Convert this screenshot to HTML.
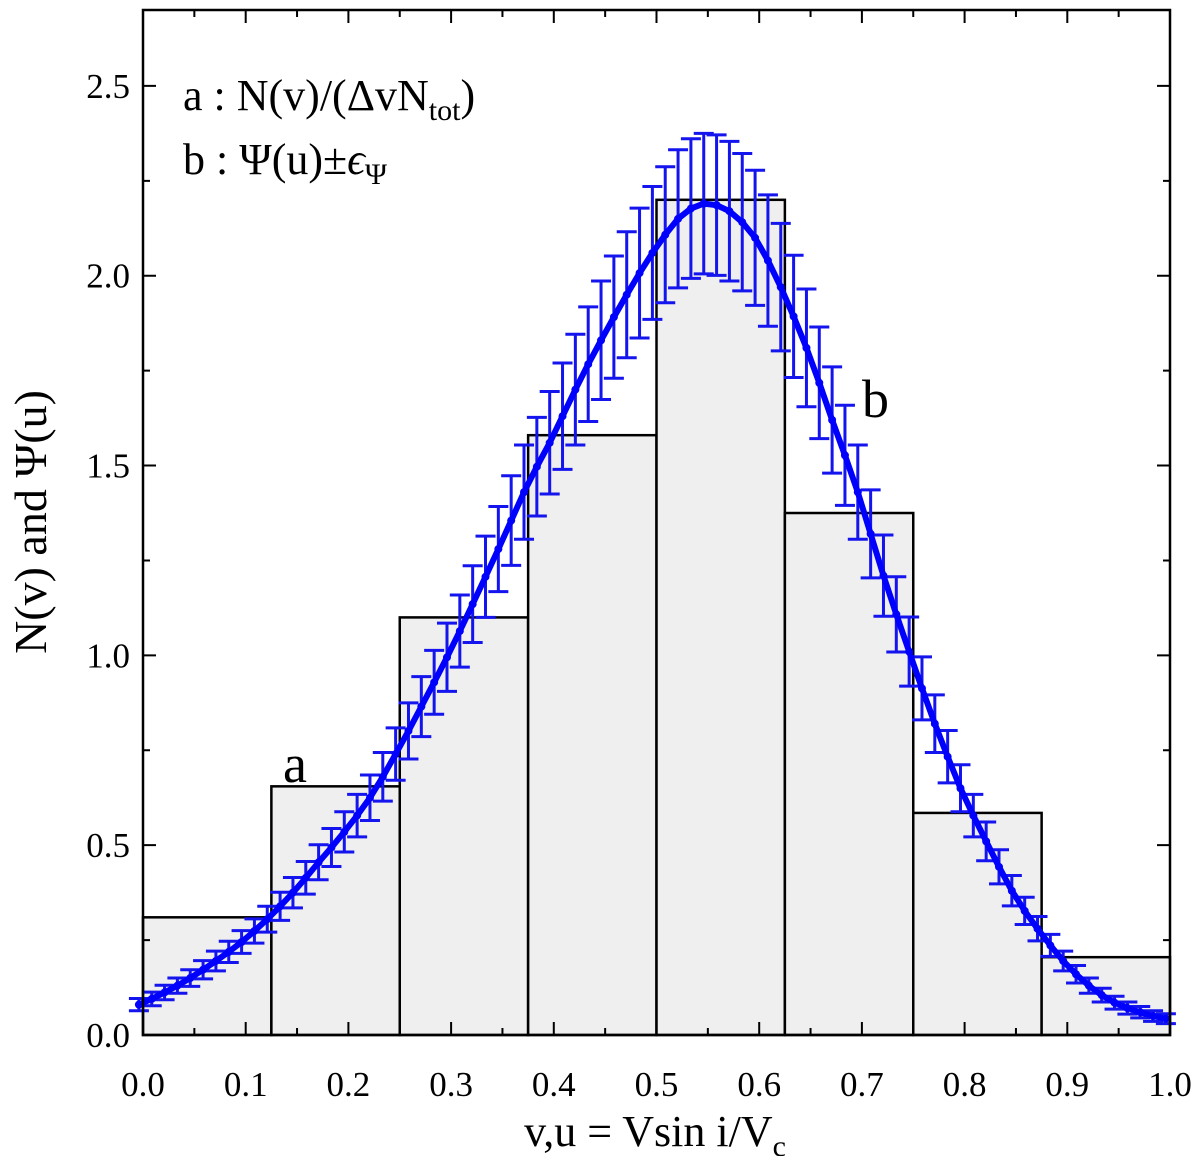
<!DOCTYPE html>
<html><head><meta charset="utf-8">
<style>
html,body{margin:0;padding:0;background:#fff;}
svg{display:block;font-family:"Liberation Serif","DejaVu Serif",serif;}
</style></head>
<body>
<svg id="chart" width="1200" height="1156" viewBox="0 0 1200 1156">
  <g id="bars"></g>
  <g id="errs"></g>
  <g id="curve"></g>
  <g id="axes"></g>
  <text x="183" y="110" font-size="44">a : N(v)/(ΔvN<tspan font-size="30" dy="10">tot</tspan><tspan dy="-10">)</tspan></text>
  <text x="183" y="174" font-size="44">b : Ψ(u)±<tspan font-style="italic">ϵ</tspan><tspan font-size="30" dy="10">Ψ</tspan></text>
  <text x="283" y="782" font-size="54">a</text>
  <text x="862" y="417" font-size="54">b</text>
  <text x="655" y="1146" font-size="44" text-anchor="middle">v,u = Vsin i/V<tspan font-size="30" dy="10">c</tspan></text>
  <text transform="translate(46,522) rotate(-90)" font-size="46" text-anchor="middle">N(v) and Ψ(u)</text>
</svg>
<script>
const binEdges = [0, 0.125, 0.25, 0.375, 0.5, 0.625, 0.75, 0.875, 1.0];
const binValues = [0.31, 0.655, 1.10, 1.58, 2.20, 1.375, 0.585, 0.205];
const psiValues = [0.080,0.095,0.112,0.130,0.150,0.172,0.195,0.219,0.245,0.274,0.305,0.339,0.375,0.414,0.455,0.494,0.535,0.578,0.625,0.680,0.740,0.801,0.865,0.929,0.995,1.064,1.135,1.207,1.28,1.355,1.43,1.497,1.56,1.63,1.70,1.767,1.83,1.891,1.95,2.007,2.06,2.108,2.15,2.177,2.19,2.186,2.17,2.141,2.10,2.040,1.97,1.893,1.81,1.718,1.62,1.527,1.43,1.320,1.21,1.108,1.01,0.913,0.82,0.733,0.65,0.578,0.51,0.443,0.38,0.327,0.28,0.236,0.195,0.160,0.13,0.105,0.085,0.071,0.060,0.050,0.043];
const psiErrors = [0.016,0.018,0.019,0.020,0.022,0.024,0.026,0.028,0.030,0.032,0.034,0.037,0.040,0.043,0.046,0.050,0.053,0.056,0.060,0.064,0.069,0.074,0.079,0.084,0.090,0.095,0.101,0.107,0.112,0.118,0.124,0.130,0.135,0.140,0.146,0.151,0.156,0.161,0.166,0.171,0.175,0.179,0.182,0.184,0.185,0.185,0.184,0.181,0.178,0.173,0.168,0.161,0.155,0.147,0.140,0.132,0.124,0.116,0.107,0.099,0.091,0.083,0.076,0.069,0.062,0.056,0.051,0.045,0.040,0.036,0.032,0.029,0.026,0.023,0.020,0.018,0.017,0.016,0.015,0.014,0.013];
const uStart = -0.004, uEnd = 0.996;
const xTickLabels = ["0.0","0.1","0.2","0.3","0.4","0.5","0.6","0.7","0.8","0.9","1.0"];
const yTickLabels = ["0.0","0.5","1.0","1.5","2.0","2.5"];

const NS = "http://www.w3.org/2000/svg";
const L = 143, R = 1170, T = 10, B = 1035, YMAX = 2.7;
function xs(v){ return L + (v - 0) / 1.0 * (R - L); }
function ys(v){ return B - v / YMAX * (B - T); }
function mk(tag, attrs, parent){ const e = document.createElementNS(NS, tag); for (const k in attrs) e.setAttribute(k, attrs[k]); parent.appendChild(e); return e; }

const gb = document.getElementById('bars');
binValues.forEach((v, i) => {
  const r = mk('rect', {x: xs(binEdges[i]), y: ys(v), width: xs(binEdges[i+1]) - xs(binEdges[i]), height: ys(0) - ys(v), fill: '#efefef', stroke: '#000', 'stroke-width': 2.5}, gb);
  
  
});

const ge = document.getElementById('errs');
const gc = document.getElementById('curve');
const n = psiValues.length;
const us = psiValues.map((_, i) => uStart + (uEnd - uStart) * i / (n - 1));
let d = '';
psiValues.forEach((v, i) => {
  const x = xs(us[i]), e = psiErrors[i];
  const y1 = ys(v + e), y2 = ys(v - e);
  const p = mk('path', {d: `M${x},${y1}V${y2}M${x-10},${y1}H${x+10}M${x-10},${y2}H${x+10}`, stroke: '#1414ee', 'stroke-width': 3, fill: 'none'}, ge);
  
  
  d += (i ? 'L' : 'M') + x + ',' + ys(v);
});
const line = mk('path', {d: d, stroke: '#0000ff', 'stroke-width': 6, fill: 'none'}, gc);


psiValues.forEach((v, i) => {
  const c = mk('circle', {cx: xs(us[i]), cy: ys(v), r: 4, fill: '#0000ff'}, gc);
  
  
});

const ga = document.getElementById('axes');
const frame = mk('rect', {x: L, y: T, width: R - L, height: B - T, fill: 'none', stroke: '#000', 'stroke-width': 2.5}, ga);


let td = '';
for (let k = 0; k <= 20; k++) {
  const x = xs(k * 0.05), len = k % 2 ? 7 : 13;
  td += `M${x},${B}V${B-len}M${x},${T}V${T+len}`;
}
for (let k = 0; k <= 10; k++) {
  const y = ys(k * 0.25), len = k % 2 ? 7 : 13;
  td += `M${L},${y}H${L+len}M${R},${y}H${R-len}`;
}
const ticks = mk('path', {d: td, stroke: '#000', 'stroke-width': 2, fill: 'none'}, ga);


xTickLabels.forEach((t, i) => {
  const tx = mk('text', {x: xs(i * 0.1), y: 1096, 'font-size': 35, 'text-anchor': 'middle'}, ga);
  tx.textContent = t;
  
  
});
yTickLabels.forEach((t, i) => {
  const tx = mk('text', {x: 130, y: ys(i * 0.5) + 12, 'font-size': 35, 'text-anchor': 'end'}, ga);
  tx.textContent = t;
  
  
});
</script>
</body></html>
